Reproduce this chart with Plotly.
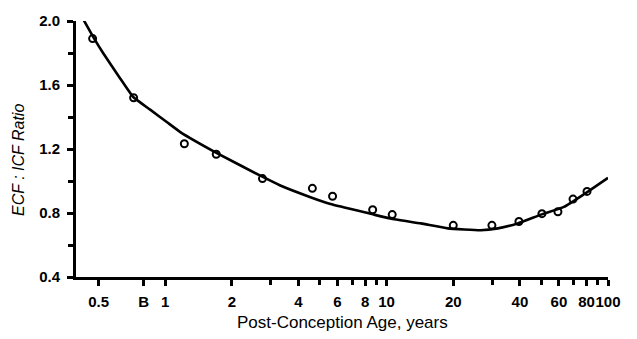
import plotly.graph_objects as go

# Measured ECF:ICF ratio versus post-conception age (years)
age_years = [0.47, 0.72, 1.22, 1.70, 2.75, 4.62, 5.7, 8.65, 10.6,
             20.0, 29.9, 39.6, 50.3, 59.4, 69.5, 80.4]
ecf_icf_ratio = [1.89, 1.52, 1.233, 1.167, 1.015, 0.954, 0.905, 0.82, 0.79,
                 0.723, 0.723, 0.747, 0.796, 0.808, 0.887, 0.935]

# Fitted trend curve
fit_age = [0.421, 0.472, 0.524, 0.626, 0.717, 0.855, 1.02, 1.17, 1.72, 2.69,
           3.31, 4.53, 5.58, 8.47, 10.4, 14.3, 18.9, 26.6, 31.8, 39.1, 49.8,
           63.2, 77.8, 100.0]
fit_ratio = [2.024, 1.903, 1.80, 1.641, 1.525, 1.446, 1.367, 1.306, 1.173,
             1.033, 0.972, 0.899, 0.856, 0.795, 0.765, 0.735, 0.704, 0.692,
             0.704, 0.735, 0.79, 0.838, 0.917, 1.02]

x_tick_vals = [0.5, 0.8, 1, 2, 4, 6, 8, 10, 20, 40, 60, 80, 100]
x_tick_text = ["0.5", "B", "1", "2", "4", "6", "8", "10", "20", "40", "60", "80", "100"]
x_minor_vals = [3, 5, 7, 9, 30, 50, 70, 90]
y_tick_vals = [0.4, 0.8, 1.2, 1.6, 2.0]
y_tick_text = ["0.4", "0.8", "1.2", "1.6", "2.0"]
y_minor_vals = [0.6, 1.0, 1.4, 1.8]

tick_font = dict(family="Liberation Sans Narrow, Liberation Sans, Arial", size=15,
                 color="black", weight="bold")
title_font = dict(family="Liberation Sans, Arial", size=16, color="black")

fig = go.Figure()
fig.add_trace(go.Scatter(
    x=fit_age, y=fit_ratio, mode="lines",
    line=dict(color="black", width=2.6, shape="spline", smoothing=0.4),
    cliponaxis=False, showlegend=False, hoverinfo="skip"))
fig.add_trace(go.Scatter(
    x=age_years, y=ecf_icf_ratio, mode="markers",
    marker=dict(symbol="circle-open", size=7, color="black", line=dict(width=2)),
    cliponaxis=False, showlegend=False))

fig.update_xaxes(
    type="log", range=[-0.403, 2.0],
    tickmode="array", tickvals=x_tick_vals, ticktext=x_tick_text,
    tickangle=0,
    ticks="outside", ticklen=6, tickwidth=2.5, tickcolor="black",
    tickfont=tick_font, ticklabelstandoff=3,
    minor=dict(tickmode="array", tickvals=x_minor_vals, ticks="outside",
               ticklen=5, tickwidth=2.5, tickcolor="black", showgrid=False),
    showline=True, linecolor="black", linewidth=2.8,
    showgrid=False, zeroline=False)
fig.update_yaxes(
    range=[0.4, 2.0],
    tickmode="array", tickvals=y_tick_vals, ticktext=y_tick_text,
    ticks="outside", ticklen=6, tickwidth=2.5, tickcolor="black",
    tickfont=tick_font, ticklabelstandoff=4,
    minor=dict(tickmode="array", tickvals=y_minor_vals, ticks="outside",
               ticklen=5, tickwidth=2.5, tickcolor="black", showgrid=False),
    showline=True, linecolor="black", linewidth=2.8,
    showgrid=False, zeroline=False)

fig.add_annotation(
    text="Post-Conception Age, years", xref="paper", yref="paper",
    x=0.5, y=0, yshift=-45, xanchor="center", yanchor="middle",
    showarrow=False, font=dict(title_font, size=17))
fig.add_annotation(
    text="<i>ECF : ICF Ratio</i>", xref="paper", yref="paper",
    x=0, y=0.5, xshift=-58, yshift=-11, xanchor="center", yanchor="middle",
    textangle=-90, showarrow=False, font=title_font)

fig.update_layout(
    width=637, height=339,
    margin=dict(l=76, r=29, t=14, b=62),
    paper_bgcolor="white", plot_bgcolor="white")

fig.write_html("out.html")
